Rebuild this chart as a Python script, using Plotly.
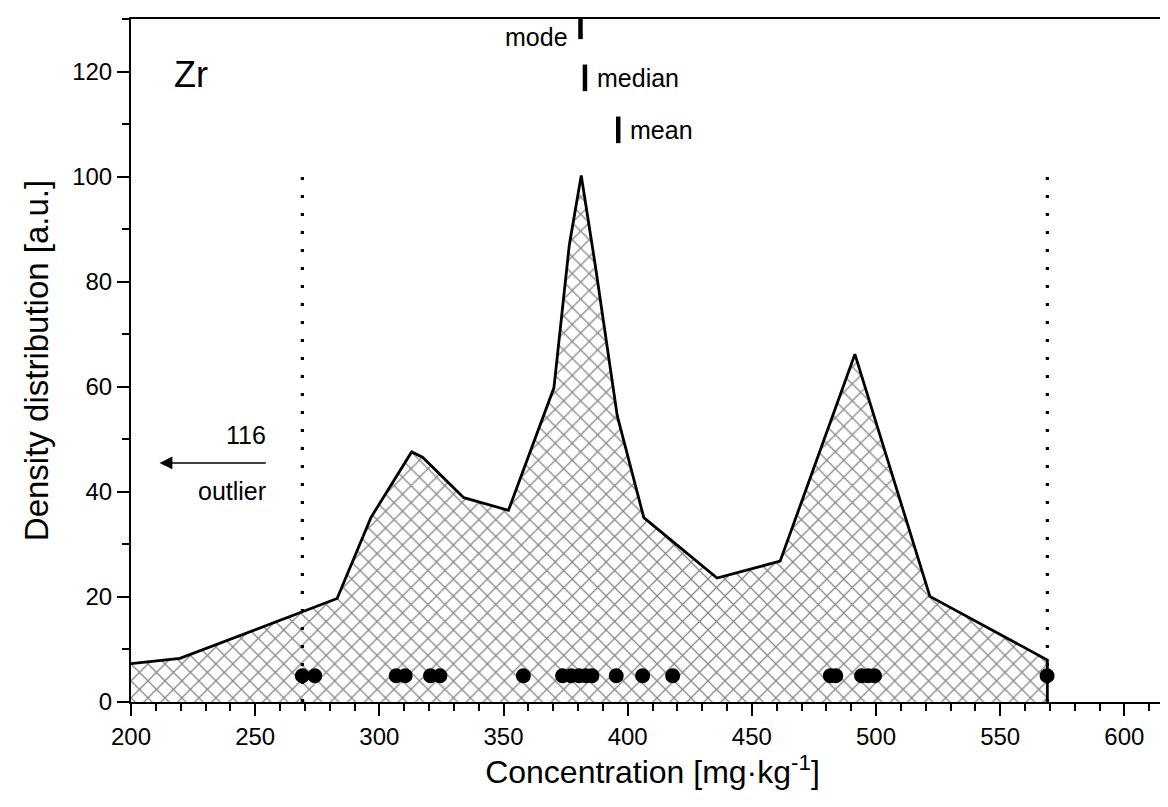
import plotly.graph_objects as go

# ---- data ----
density_x = [200, 219.7, 283.0, 296.6, 313.0, 317.4, 334.0, 352.0, 370.3, 376.5,
             381.3, 387.0, 395.8, 406.5, 436.0, 461.4, 491.5, 521.7, 569.0]
density_y = [7.3, 8.3, 19.7, 35.1, 47.6, 46.6, 38.9, 36.5, 59.8, 87.0,
             100.2, 83.0, 54.5, 35.1, 23.6, 26.8, 66.2, 20.1, 8.0]

samples = [269.0, 274.0, 306.8, 310.4, 320.6, 324.4, 358.0, 373.8, 377.2, 380.4,
           383.2, 385.6, 395.4, 406.0, 418.1, 481.6, 483.8, 494.2, 496.8, 499.4, 568.9]
sample_level = 5

limits = [269.0, 569.0]
limit_top = 100

stat_names = ["mode", "median", "mean"]
stat_values = [381.0, 382.8, 396.2]
stat_levels = [128.7, 118.8, 108.9]

outlier_value = "116"
element = "Zr"

x_ticks = list(range(200, 601, 50))
y_ticks = list(range(0, 121, 20))

FONT = "Arial, Liberation Sans, sans-serif"

fig = go.Figure()

# density polygon (closed down to baseline at last point)
poly_x = density_x + [density_x[-1]]
poly_y = density_y + [0]
fig.add_trace(go.Scatter(
    x=poly_x, y=poly_y, mode="lines",
    line=dict(color="black", width=2.8),
    fill="tozeroy", fillcolor="white",
    fillpattern=dict(shape="x", size=12, solidity=0.2,
                     fgcolor="#111111", bgcolor="white"),
    hoverinfo="skip", showlegend=False))

# dotted limit lines
for v in limits:
    fig.add_trace(go.Scatter(
        x=[v, v], y=[0, limit_top], mode="lines",
        line=dict(color="black", width=3.2, dash="3px,15px"),
        hoverinfo="skip", showlegend=False))

# sample dots
fig.add_trace(go.Scatter(
    x=samples, y=[sample_level] * len(samples), mode="markers",
    marker=dict(symbol="circle", size=15, color="black"),
    showlegend=False))

# mode / median / mean bars
fig.add_trace(go.Scatter(
    x=stat_values, y=stat_levels, mode="markers",
    marker=dict(symbol="line-ns", size=19, line=dict(color="black", width=4.5)),
    showlegend=False))

ann = []
ann.append(dict(x=stat_values[0], y=stat_levels[0] - 2.2, text=stat_names[0],
                xanchor="right", yanchor="middle", xshift=-10, showarrow=False,
                font=dict(family=FONT, size=25, color="black")))
for name, v, lv in zip(stat_names[1:], stat_values[1:], stat_levels[1:]):
    ann.append(dict(x=v, y=lv, text=name, xanchor="left", yanchor="middle",
                    xshift=10, showarrow=False,
                    font=dict(family=FONT, size=25, color="black")))

ann.append(dict(x=224.2, y=119.5, text=element, showarrow=False,
                xanchor="center", yanchor="middle",
                font=dict(family=FONT, size=36, color="black")))

# outlier arrow
ann.append(dict(x=211.5, y=45.5, ax=255.5, ay=45.5, axref="x", ayref="y",
                xref="x", yref="y", text=" ", showarrow=True,
                arrowhead=2, arrowsize=1.6, arrowwidth=1.6, arrowcolor="black"))
ann.append(dict(x=255.0, y=50.8, text=outlier_value, showarrow=False,
                xanchor="right", yanchor="middle",
                font=dict(family=FONT, size=25, color="black")))
ann.append(dict(x=255.0, y=40.2, text="outlier", showarrow=False,
                xanchor="right", yanchor="middle",
                font=dict(family=FONT, size=25, color="black")))

fig.update_layout(
    width=1168, height=807,
    margin=dict(l=123, r=2, t=11, b=113),
    paper_bgcolor="white", plot_bgcolor="white",
    annotations=ann,
    font=dict(family=FONT, color="black"),
)

axis_common = dict(
    showgrid=False, zeroline=False, showline=True, linecolor="black",
    linewidth=2, mirror=True, ticks="outside", ticklen=12, tickwidth=2,
    tickcolor="black", tickfont=dict(family=FONT, size=24, color="black"),
    automargin=False,
)

fig.update_xaxes(
    range=[200, 620], tickvals=x_ticks, ticktext=[str(t) for t in x_ticks],
    minor=dict(dtick=10, tick0=200, ticks="outside", ticklen=7, tickwidth=2,
               tickcolor="black"),
    title=dict(text="Concentration [mg·kg<sup>-1</sup>]",
               font=dict(family=FONT, size=32, color="black"), standoff=12),
    **axis_common)

fig.update_yaxes(
    range=[0, 130], tickvals=y_ticks, ticktext=[str(t) for t in y_ticks],
    minor=dict(dtick=10, tick0=0, ticks="outside", ticklen=7, tickwidth=2,
               tickcolor="black"),
    title=dict(text="Density distribution [a.u.]",
               font=dict(family=FONT, size=33, color="black"), standoff=14),
    **axis_common)

fig.write_html("out.html")
